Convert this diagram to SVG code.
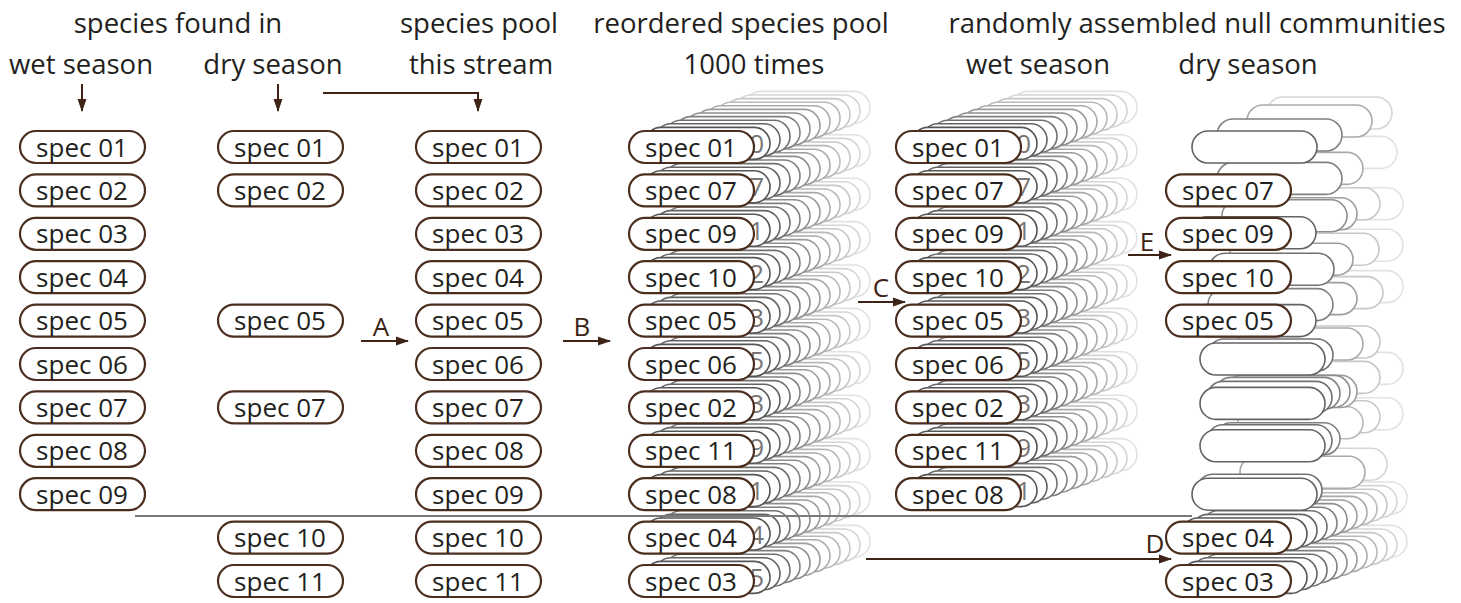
<svg xmlns="http://www.w3.org/2000/svg" width="1461" height="603" viewBox="0 0 1461 603">
<style>
.p{fill:#fff;stroke:#4b2e1f;stroke-width:2.2}
.t{font-family:"Open Sans","Liberation Sans",sans-serif;font-size:26px;fill:#231f20;text-anchor:middle}
.h{font-family:"Open Sans","Liberation Sans",sans-serif;font-size:27.5px;fill:#231f20;text-anchor:middle}
.d{font-family:"Open Sans","Liberation Sans",sans-serif;font-size:26px;fill:#777;text-anchor:end}
.l{font-family:"Open Sans","Liberation Sans",sans-serif;font-size:26px;fill:#3d2416;text-anchor:middle}
.a{fill:none;stroke:#3d2416;stroke-width:2;marker-end:url(#ah)}
.g{fill:none;stroke:#7a7a7a;stroke-width:1.8}
.s1{fill:#fff;stroke:#555;stroke-width:1.6}
.s2{fill:#fff;stroke:#636363;stroke-width:1.6}
.s3{fill:#fff;stroke:#717171;stroke-width:1.6}
.s4{fill:#fff;stroke:#808080;stroke-width:1.6}
.s5{fill:#fff;stroke:#8e8e8e;stroke-width:1.6}
.s6{fill:#fff;stroke:#9c9c9c;stroke-width:1.6}
.s7{fill:#fff;stroke:#aaa;stroke-width:1.6}
.s8{fill:#fff;stroke:#b9b9b9;stroke-width:1.6}
.s9{fill:#fff;stroke:#c7c7c7;stroke-width:1.6}
.s10{fill:#fff;stroke:#d5d5d5;stroke-width:1.6}
.s11{fill:#fff;stroke:#e2e2e2;stroke-width:1.6}
</style>
<defs>
<marker id="ah" viewBox="0 0 13 10" refX="12" refY="5" markerWidth="13" markerHeight="10" markerUnits="userSpaceOnUse" orient="auto"><path d="M0,0.5 L13,5 L0,9.5 Z" fill="#3d2416"/></marker>
<g id="stk">
<rect class="s11" x="116" y="-39.6" width="125" height="32" rx="16"/>
<rect class="s10" x="106" y="-36" width="125" height="32" rx="16"/>
<rect class="s9" x="96" y="-32.4" width="125" height="32" rx="16"/>
<rect class="s8" x="86" y="-28.8" width="125" height="32" rx="16"/>
<rect class="s7" x="76" y="-25.2" width="125" height="32" rx="16"/>
<rect class="s6" x="66" y="-21.6" width="125" height="32" rx="16"/>
<rect class="s5" x="56" y="-18" width="125" height="32" rx="16"/>
<rect class="s4" x="46" y="-14.4" width="125" height="32" rx="16"/>
<rect class="s3" x="36" y="-10.8" width="125" height="32" rx="16"/>
<rect class="s2" x="26" y="-7.2" width="125" height="32" rx="16"/>
<rect class="s1" x="16" y="-3.6" width="125" height="32" rx="16"/>
</g>
</defs>
<rect width="1461" height="603" fill="#fff"/>

<g id="headers">
<text class="h" x="178" y="33">species found in</text>
<text class="h" x="81" y="74">wet season</text>
<text class="h" x="273" y="74">dry season</text>
<text class="h" x="479" y="33">species pool</text>
<text class="h" x="481" y="74">this stream</text>
<text class="h" x="741" y="33">reordered species pool</text>
<text class="h" x="754" y="74">1000 times</text>
<text class="h" x="1197" y="33">randomly assembled null communities</text>
<text class="h" x="1038" y="74">wet season</text>
<text class="h" x="1248" y="74">dry season</text>
</g>

<g id="wet-01"><rect class="p" x="20" y="131" width="125" height="32" rx="16"/><text class="t" x="82" y="156.5">spec 01</text></g>
<g id="wet-02"><rect class="p" x="20" y="174.4" width="125" height="32" rx="16"/><text class="t" x="82" y="199.9">spec 02</text></g>
<g id="wet-03"><rect class="p" x="20" y="217.8" width="125" height="32" rx="16"/><text class="t" x="82" y="243.3">spec 03</text></g>
<g id="wet-04"><rect class="p" x="20" y="261.2" width="125" height="32" rx="16"/><text class="t" x="82" y="286.7">spec 04</text></g>
<g id="wet-05"><rect class="p" x="20" y="304.6" width="125" height="32" rx="16"/><text class="t" x="82" y="330.1">spec 05</text></g>
<g id="wet-06"><rect class="p" x="20" y="348" width="125" height="32" rx="16"/><text class="t" x="82" y="373.5">spec 06</text></g>
<g id="wet-07"><rect class="p" x="20" y="391.4" width="125" height="32" rx="16"/><text class="t" x="82" y="416.9">spec 07</text></g>
<g id="wet-08"><rect class="p" x="20" y="434.8" width="125" height="32" rx="16"/><text class="t" x="82" y="460.3">spec 08</text></g>
<g id="wet-09"><rect class="p" x="20" y="478.2" width="125" height="32" rx="16"/><text class="t" x="82" y="503.7">spec 09</text></g>

<g id="dry-01"><rect class="p" x="218" y="131" width="125" height="32" rx="16"/><text class="t" x="280" y="156.5">spec 01</text></g>
<g id="dry-02"><rect class="p" x="218" y="174.4" width="125" height="32" rx="16"/><text class="t" x="280" y="199.9">spec 02</text></g>
<g id="dry-05"><rect class="p" x="218" y="304.6" width="125" height="32" rx="16"/><text class="t" x="280" y="330.1">spec 05</text></g>
<g id="dry-07"><rect class="p" x="218" y="391.4" width="125" height="32" rx="16"/><text class="t" x="280" y="416.9">spec 07</text></g>
<g id="dry-10"><rect class="p" x="218" y="521.6" width="125" height="32" rx="16"/><text class="t" x="280" y="547.1">spec 10</text></g>
<g id="dry-11"><rect class="p" x="218" y="565" width="125" height="32" rx="16"/><text class="t" x="280" y="590.5">spec 11</text></g>

<g id="pool-01"><rect class="p" x="416" y="131" width="125" height="32" rx="16"/><text class="t" x="478" y="156.5">spec 01</text></g>
<g id="pool-02"><rect class="p" x="416" y="174.4" width="125" height="32" rx="16"/><text class="t" x="478" y="199.9">spec 02</text></g>
<g id="pool-03"><rect class="p" x="416" y="217.8" width="125" height="32" rx="16"/><text class="t" x="478" y="243.3">spec 03</text></g>
<g id="pool-04"><rect class="p" x="416" y="261.2" width="125" height="32" rx="16"/><text class="t" x="478" y="286.7">spec 04</text></g>
<g id="pool-05"><rect class="p" x="416" y="304.6" width="125" height="32" rx="16"/><text class="t" x="478" y="330.1">spec 05</text></g>
<g id="pool-06"><rect class="p" x="416" y="348" width="125" height="32" rx="16"/><text class="t" x="478" y="373.5">spec 06</text></g>
<g id="pool-07"><rect class="p" x="416" y="391.4" width="125" height="32" rx="16"/><text class="t" x="478" y="416.9">spec 07</text></g>
<g id="pool-08"><rect class="p" x="416" y="434.8" width="125" height="32" rx="16"/><text class="t" x="478" y="460.3">spec 08</text></g>
<g id="pool-09"><rect class="p" x="416" y="478.2" width="125" height="32" rx="16"/><text class="t" x="478" y="503.7">spec 09</text></g>
<g id="pool-10"><rect class="p" x="416" y="521.6" width="125" height="32" rx="16"/><text class="t" x="478" y="547.1">spec 10</text></g>
<g id="pool-11"><rect class="p" x="416" y="565" width="125" height="32" rx="16"/><text class="t" x="478" y="590.5">spec 11</text></g>

<g id="reord-r11"><use href="#stk" x="629" y="565"/><text class="d" x="764" y="586.9">5</text><rect class="p" x="629" y="565" width="125" height="32" rx="16"/><text class="t" x="691" y="590.5">spec 03</text></g>
<g id="reord-r10"><use href="#stk" x="629" y="521.6"/><text class="d" x="764" y="543.5">4</text><rect class="p" x="629" y="521.6" width="125" height="32" rx="16"/><text class="t" x="691" y="547.1">spec 04</text></g>
<g id="reord-r09"><use href="#stk" x="629" y="478.2"/><text class="d" x="764" y="500.1">1</text><rect class="p" x="629" y="478.2" width="125" height="32" rx="16"/><text class="t" x="691" y="503.7">spec 08</text></g>
<g id="reord-r08"><use href="#stk" x="629" y="434.8"/><text class="d" x="764" y="456.7">9</text><rect class="p" x="629" y="434.8" width="125" height="32" rx="16"/><text class="t" x="691" y="460.3">spec 11</text></g>
<g id="reord-r07"><use href="#stk" x="629" y="391.4"/><text class="d" x="764" y="413.3">3</text><rect class="p" x="629" y="391.4" width="125" height="32" rx="16"/><text class="t" x="691" y="416.9">spec 02</text></g>
<g id="reord-r06"><use href="#stk" x="629" y="348"/><text class="d" x="764" y="369.9">5</text><rect class="p" x="629" y="348" width="125" height="32" rx="16"/><text class="t" x="691" y="373.5">spec 06</text></g>
<g id="reord-r05"><use href="#stk" x="629" y="304.6"/><text class="d" x="764" y="326.5">3</text><rect class="p" x="629" y="304.6" width="125" height="32" rx="16"/><text class="t" x="691" y="330.1">spec 05</text></g>
<g id="reord-r04"><use href="#stk" x="629" y="261.2"/><text class="d" x="764" y="283.1">2</text><rect class="p" x="629" y="261.2" width="125" height="32" rx="16"/><text class="t" x="691" y="286.7">spec 10</text></g>
<g id="reord-r03"><use href="#stk" x="629" y="217.8"/><text class="d" x="764" y="239.7">1</text><rect class="p" x="629" y="217.8" width="125" height="32" rx="16"/><text class="t" x="691" y="243.3">spec 09</text></g>
<g id="reord-r02"><use href="#stk" x="629" y="174.4"/><text class="d" x="764" y="196.3">7</text><rect class="p" x="629" y="174.4" width="125" height="32" rx="16"/><text class="t" x="691" y="199.9">spec 07</text></g>
<g id="reord-r01"><use href="#stk" x="629" y="131"/><text class="d" x="764" y="152.9">0</text><rect class="p" x="629" y="131" width="125" height="32" rx="16"/><text class="t" x="691" y="156.5">spec 01</text></g>

<g id="nullwet-r09"><use href="#stk" x="896" y="478.2"/><text class="d" x="1031" y="500.1">1</text><rect class="p" x="896" y="478.2" width="125" height="32" rx="16"/><text class="t" x="958" y="503.7">spec 08</text></g>
<g id="nullwet-r08"><use href="#stk" x="896" y="434.8"/><text class="d" x="1031" y="456.7">9</text><rect class="p" x="896" y="434.8" width="125" height="32" rx="16"/><text class="t" x="958" y="460.3">spec 11</text></g>
<g id="nullwet-r07"><use href="#stk" x="896" y="391.4"/><text class="d" x="1031" y="413.3">3</text><rect class="p" x="896" y="391.4" width="125" height="32" rx="16"/><text class="t" x="958" y="416.9">spec 02</text></g>
<g id="nullwet-r06"><use href="#stk" x="896" y="348"/><text class="d" x="1031" y="369.9">5</text><rect class="p" x="896" y="348" width="125" height="32" rx="16"/><text class="t" x="958" y="373.5">spec 06</text></g>
<g id="nullwet-r05"><use href="#stk" x="896" y="304.6"/><text class="d" x="1031" y="326.5">3</text><rect class="p" x="896" y="304.6" width="125" height="32" rx="16"/><text class="t" x="958" y="330.1">spec 05</text></g>
<g id="nullwet-r04"><use href="#stk" x="896" y="261.2"/><text class="d" x="1031" y="283.1">2</text><rect class="p" x="896" y="261.2" width="125" height="32" rx="16"/><text class="t" x="958" y="286.7">spec 10</text></g>
<g id="nullwet-r03"><use href="#stk" x="896" y="217.8"/><text class="d" x="1031" y="239.7">1</text><rect class="p" x="896" y="217.8" width="125" height="32" rx="16"/><text class="t" x="958" y="243.3">spec 09</text></g>
<g id="nullwet-r02"><use href="#stk" x="896" y="174.4"/><text class="d" x="1031" y="196.3">7</text><rect class="p" x="896" y="174.4" width="125" height="32" rx="16"/><text class="t" x="958" y="199.9">spec 07</text></g>
<g id="nullwet-r01"><use href="#stk" x="896" y="131"/><text class="d" x="1031" y="152.9">0</text><rect class="p" x="896" y="131" width="125" height="32" rx="16"/><text class="t" x="958" y="156.5">spec 01</text></g>

<g id="nulldry-r11"><use href="#stk" x="1166" y="565"/><rect class="p" x="1166" y="565" width="125" height="32" rx="16"/><text class="t" x="1228" y="590.5">spec 03</text></g>
<g id="nulldry-r10"><use href="#stk" x="1166" y="521.6"/><rect class="p" x="1166" y="521.6" width="125" height="32" rx="16"/><text class="t" x="1228" y="547.1">spec 04</text></g>
<g id="nulldry-r09">
<rect class="s10" x="1262" y="448.2" width="125" height="32" rx="16"/>
<rect class="s7" x="1240" y="456.2" width="125" height="32" rx="16"/>
<rect class="s3" x="1197" y="474.2" width="125" height="32" rx="16"/>
<rect class="s2" x="1192" y="478.2" width="125" height="32" rx="16"/>
</g>
<g id="nulldry-r08">
<rect class="s11" x="1278" y="397.8" width="125" height="32" rx="16"/>
<rect class="s9" x="1255" y="400.8" width="125" height="32" rx="16"/>
<rect class="s8" x="1238" y="406.8" width="125" height="32" rx="16"/>
<rect class="s4" x="1215" y="422.8" width="125" height="32" rx="16"/>
<rect class="s3" x="1207" y="424.8" width="125" height="32" rx="16"/>
<rect class="s2" x="1200" y="429.8" width="125" height="32" rx="16"/>
</g>
<g id="nulldry-r07">
<rect class="s11" x="1278" y="352.4" width="125" height="32" rx="16"/>
<rect class="s9" x="1255" y="361.4" width="125" height="32" rx="16"/>
<rect class="s6" x="1232" y="375.4" width="125" height="32" rx="16"/>
<rect class="s5" x="1225" y="375.4" width="125" height="32" rx="16"/>
<rect class="s4" x="1215" y="377.4" width="125" height="32" rx="16"/>
<rect class="s3" x="1207" y="381.4" width="125" height="32" rx="16"/>
<rect class="s2" x="1200" y="387.4" width="125" height="32" rx="16"/>
</g>
<g id="nulldry-r06">
<rect class="s9" x="1255" y="326" width="125" height="32" rx="16"/>
<rect class="s7" x="1238" y="328" width="125" height="32" rx="16"/>
<rect class="s3" x="1208" y="339" width="125" height="32" rx="16"/>
<rect class="s2" x="1200" y="343" width="125" height="32" rx="16"/>
</g>
<g id="nulldry-r05">
<rect class="s11" x="1278" y="270.6" width="125" height="32" rx="16"/>
<rect class="s9" x="1258" y="276.6" width="125" height="32" rx="16"/>
<rect class="s6" x="1232" y="282.6" width="125" height="32" rx="16"/>
<rect class="s4" x="1208" y="288.6" width="125" height="32" rx="16"/>
<rect class="s2" x="1191" y="304.6" width="125" height="32" rx="16"/>
<rect class="p" x="1166" y="304.6" width="125" height="32" rx="16"/><text class="t" x="1228" y="330.1">spec 05</text>
</g>
<g id="nulldry-r04">
<rect class="s11" x="1278" y="229.2" width="125" height="32" rx="16"/>
<rect class="s9" x="1254" y="233.2" width="125" height="32" rx="16"/>
<rect class="s6" x="1228" y="243.2" width="125" height="32" rx="16"/>
<rect class="s3" x="1209" y="253.2" width="125" height="32" rx="16"/>
<rect class="p" x="1166" y="261.2" width="125" height="32" rx="16"/><text class="t" x="1228" y="286.7">spec 10</text>
</g>
<g id="nulldry-r03">
<rect class="s11" x="1278" y="187.8" width="125" height="32" rx="16"/>
<rect class="s9" x="1255" y="187.8" width="125" height="32" rx="16"/>
<rect class="s6" x="1232" y="197.8" width="125" height="32" rx="16"/>
<rect class="s5" x="1222" y="199.8" width="125" height="32" rx="16"/>
<rect class="s2" x="1191" y="216.8" width="125" height="32" rx="16"/>
<rect class="p" x="1166" y="217.8" width="125" height="32" rx="16"/><text class="t" x="1228" y="243.3">spec 09</text>
</g>
<g id="nulldry-r02">
<rect class="s11" x="1272" y="136.4" width="125" height="32" rx="16"/>
<rect class="s7" x="1238" y="152.4" width="125" height="32" rx="16"/>
<rect class="s4" x="1217" y="162.4" width="125" height="32" rx="16"/>
<rect class="p" x="1166" y="174.4" width="125" height="32" rx="16"/><text class="t" x="1228" y="199.9">spec 07</text>
</g>
<g id="nulldry-r01">
<rect class="s10" x="1267" y="97" width="125" height="32" rx="16"/>
<rect class="s7" x="1247" y="105" width="125" height="32" rx="16"/>
<rect class="s4" x="1217" y="119" width="125" height="32" rx="16"/>
<rect class="s2" x="1192" y="131" width="125" height="32" rx="16"/>
</g>

<g id="connectors">
<path class="g" d="M135,516 H1192"/>
<path class="a" d="M82,84 V111"/>
<path class="a" d="M278,84 V111"/>
<path class="a" d="M323,93 H478 V111"/>
<path class="a" d="M361,341 H408"/>
<text class="l" x="381" y="336">A</text>
<path class="a" d="M563,341 H610"/>
<text class="l" x="582" y="336">B</text>
<path class="a" d="M858,302 H905"/>
<text class="l" x="881" y="297">C</text>
<path class="a" d="M1128,255 H1171"/>
<text class="l" x="1147" y="251">E</text>
<path class="a" d="M866,559 H1171"/>
<text class="l" x="1155" y="553">D</text>
</g>
</svg>
